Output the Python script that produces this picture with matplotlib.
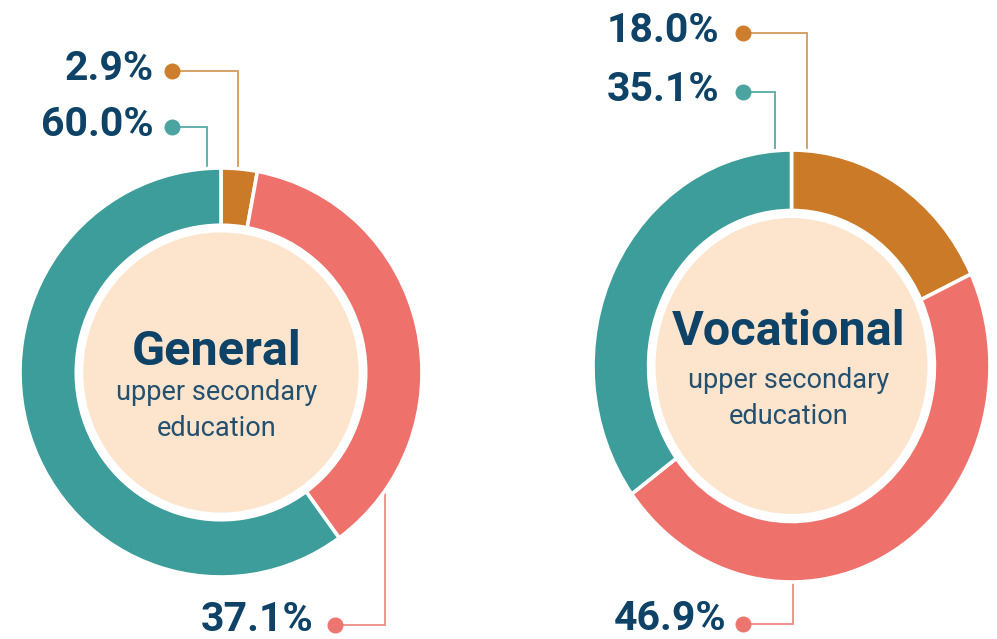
"""Share of upper secondary students by group: general vs vocational programmes."""

import matplotlib
matplotlib.use("Agg")
import matplotlib.pyplot as plt
from matplotlib.patches import Ellipse

# data (order: orange, salmon, teal; drawn clockwise from 12 o'clock)
GENERAL_SHARES = [2.9, 37.1, 60.0]
VOCATIONAL_SHARES = [18.0, 46.9, 35.1]
PROGRAMMES = ["General", "Vocational"]
SUBTITLE = ["upper secondary", "education"]

ORANGE = "#CB7A28"
SALMON = "#EE716C"
TEAL = "#3C9D9A"
SEG_COLORS = [ORANGE, SALMON, TEAL]
LINE_COLORS = ["#D39A5C", "#EE8B88", "#57AAA6"]
DOT_COLORS = ["#CD7E2D", "#EC7570", "#4CA4A0"]
BEIGE = "#FDE4CD"
NAVY = "#0E4266"
NAVY_SOFT = "#24506F"

W, H = 997, 639
FONT = "Roboto"


def px_box(x0, y0, x1, y1):
    return [x0 / W, 1 - y1 / H, (x1 - x0) / W, (y1 - y0) / H]


def donut(fig, box, shares):
    ax = fig.add_axes(px_box(*box))
    ax.pie(
        shares,
        colors=SEG_COLORS,
        startangle=90,
        counterclock=False,
        radius=1.0,
        wedgeprops=dict(width=0.28, edgecolor="white", linewidth=2.6),
    )
    ax.set_aspect("auto")
    ax.set_xlim(-1, 1)
    ax.set_ylim(-1, 1)
    ax.add_patch(Ellipse((0, 0), 1.37, 1.37, facecolor=BEIGE, edgecolor="none"))
    ax.axis("off")
    return ax


def leader(ax, text, value_color, line_color, text_x, dot, elbow_x, end_y, offset=9):
    dx, dy = dot
    ax.plot([dx, elbow_x, elbow_x], [dy, dy, end_y], color=line_color, linewidth=1.3,
            solid_joinstyle="miter", zorder=1)
    ax.plot(dx, dy, "o", color=value_color, markersize=10.5, zorder=2)
    ax.text(text_x, dy + offset, text, ha="right", va="baseline", fontsize=29.5,
            fontweight="bold", color=NAVY, family=FONT)


def caption(ax, x, y_title, y_sub, title):
    ax.text(x, y_title, title, ha="center", va="baseline", fontsize=35,
            fontweight="bold", color=NAVY, family=FONT)
    for i, line in enumerate(SUBTITLE):
        ax.text(x, y_sub + i * 36, line, ha="center", va="baseline", fontsize=19.5,
                color=NAVY_SOFT, family=FONT)


def main() -> None:
    fig = plt.figure(figsize=(W / 100, H / 100), dpi=100)
    fig.patch.set_facecolor("white")

    # overlay in pixel coordinates for labels and leader lines
    ov = fig.add_axes([0, 0, 1, 1])
    ov.set_xlim(0, W)
    ov.set_ylim(H, 0)
    ov.axis("off")

    donut(fig, (20, 168, 422, 577), GENERAL_SHARES)
    donut(fig, (593, 150, 990, 582), VOCATIONAL_SHARES)

    g = [f"{v:.1f}%" for v in GENERAL_SHARES]
    v = [f"{x:.1f}%" for x in VOCATIONAL_SHARES]

    # general
    leader(ov, g[0], DOT_COLORS[0], LINE_COLORS[0], 154, (172, 71), 238, 200)
    leader(ov, g[2], DOT_COLORS[2], LINE_COLORS[2], 154, (172, 127), 207, 200)
    leader(ov, g[1], DOT_COLORS[1], LINE_COLORS[1], 313, (335, 625), 385, 470, offset=6)
    # vocational
    leader(ov, v[0], DOT_COLORS[0], LINE_COLORS[0], 719, (743, 33), 807, 185)
    leader(ov, v[2], DOT_COLORS[2], LINE_COLORS[2], 719, (743, 92), 775, 185)
    leader(ov, v[1], DOT_COLORS[1], LINE_COLORS[1], 726, (743, 624), 793, 560, offset=6)

    # centre captions (on top of donuts)
    top = fig.add_axes([0, 0, 1, 1])
    top.set_xlim(0, W)
    top.set_ylim(H, 0)
    top.axis("off")
    caption(top, 217, 365, 400, PROGRAMMES[0])
    caption(top, 789, 345, 388, PROGRAMMES[1])

    fig.savefig("out.png", dpi=100, facecolor="white")
    plt.close(fig)


if __name__ == "__main__":
    main()
